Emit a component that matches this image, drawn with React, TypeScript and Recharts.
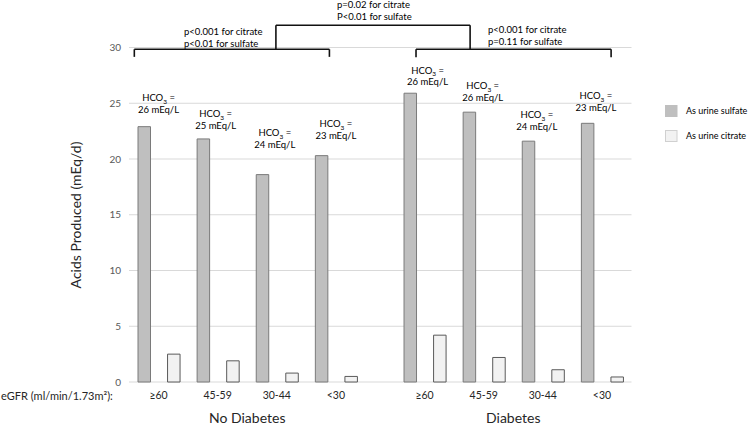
import { BarChart, Bar, XAxis, YAxis, CartesianGrid, ReferenceLine, ReferenceDot } from 'recharts'

const GROUPS = ['No Diabetes', 'Diabetes']
const EGFR = ['≥60', '45-59', '30-44', '<30']
const SULFATE_NO_DM = [22.9, 21.8, 18.6, 20.3]
const SULFATE_DM = [25.9, 24.2, 21.6, 23.2]
const CITRATE_NO_DM = [2.5, 1.9, 0.8, 0.5]
const CITRATE_DM = [4.2, 2.2, 1.1, 0.45]
const HCO3_NO_DM = [26, 25, 24, 23]
const HCO3_DM = [26, 26, 24, 23]
const Y_TICKS = [0, 5, 10, 15, 20, 25, 30]

// where each HCO3 note sits: height of its 2nd line in mEq/d, plus a small px nudge
const NOTE_Y = [[24.4, 23.0, 21.3, 22.1], [26.9, 25.5, 22.9, 24.6]]
const NOTE_DX = [[0, -2, -2, 0], [3, -1, -6, -6]]

// brackets in slot units (x) and mEq/d (y)
const BRACKETS = [
  { x1: 0.18, x2: 6.78, y: 29.84, foot: 29.16 },
  { x1: 9.71, x2: 16.31, y: 29.84, foot: 29.12 },
  { x1: 4.97, x2: 11.54, y: 32.0, foot: 29.84 },
]

const SULFATE_FILL = '#bfbfbf'
const CITRATE_FILL = '#f2f2f2'
const TEXT = '#262626'
const FONT = 'Lato, sans-serif'

const sulfate = [SULFATE_NO_DM, SULFATE_DM]
const citrate = [CITRATE_NO_DM, CITRATE_DM]
const hco3 = [HCO3_NO_DM, HCO3_DM]

// every bar gets its own slot; one empty slot between the two groups
const SLOTS_PER_GROUP = EGFR.length * 2
const rows: { slot: string; pos: number; sulfate: number | null; citrate: number | null }[] = []
GROUPS.forEach((g, gi) => {
  if (gi > 0) rows.push({ slot: `gap${gi}`, pos: 0, sulfate: null, citrate: null })
  EGFR.forEach((e, i) => {
    rows.push({ slot: `${g} ${e} s`, pos: 0, sulfate: sulfate[gi][i], citrate: null })
    rows.push({ slot: `${g} ${e} c`, pos: 0, sulfate: null, citrate: citrate[gi][i] })
  })
})
rows.forEach((r, k) => { r.pos = k + 0.5 })
const SLOT_COUNT = rows.length

const catCenter = (gi: number, i: number) => gi * (SLOTS_PER_GROUP + 1) + 2 * i + 1
const groupCenter = (gi: number) => gi * (SLOTS_PER_GROUP + 1) + SLOTS_PER_GROUP / 2
const xTicks = GROUPS.flatMap((_, gi) => EGFR.map((_, i) => catCenter(gi, i)))
const tickText: Record<number, string> = {}
GROUPS.forEach((_, gi) => EGFR.forEach((e, i) => { tickText[catCenter(gi, i)] = e }))

function Note({ cx, cy, value, dx }: any) {
  const x = cx + dx
  return (
    <g fontSize={9.5} fill="#000" textAnchor="middle">
      <text x={x} y={cy - 11.8} dy="0.35em">
        HCO<tspan fontSize={6.5} dy={2.5}>3</tspan><tspan dy={-2.5}> =</tspan>
      </text>
      <text x={x} y={cy} dy="0.35em">{value} mEq/L</text>
    </g>
  )
}

function GroupName({ cx, cy, name }: any) {
  return (
    <text x={cx} y={cy + 36} dy="0.35em" textAnchor="middle" fontSize={14} fill={TEXT}>{name}</text>
  )
}

export default function App() {
  return (
    <div style={{ position: 'absolute', left: 0, top: 0, width: 750, height: 426, fontFamily: FONT, background: '#fff' }}>
      <BarChart width={750} height={426} data={rows} margin={{ top: 47.5, right: 118.5, left: 89, bottom: 24 }}>
        <CartesianGrid xAxisId="num" vertical={false} stroke="#d9d9d9" />
        <XAxis xAxisId="slot" dataKey="slot" hide />
        <XAxis
          xAxisId="num"
          dataKey="pos"
          type="number"
          domain={[0, SLOT_COUNT]}
          allowDataOverflow
          ticks={xTicks}
          interval={0}
          height={20}
          axisLine={false}
          tickLine={false}
          tickMargin={4}
          tickFormatter={v => tickText[v] ?? ''}
          tick={{ fontSize: 10.5, fill: TEXT }}
        />
        <YAxis
          width={40}
          domain={[0, 30]}
          ticks={Y_TICKS}
          axisLine={false}
          tickLine={false}
          tick={{ fontSize: 10, fill: '#595959' }}
        />
        <Bar xAxisId="slot" dataKey="sulfate" stackId="a" barSize={12.5} fill={SULFATE_FILL} stroke="#7a7a7a" strokeWidth={1} isAnimationActive={false} />
        <Bar xAxisId="slot" dataKey="citrate" stackId="a" barSize={12.5} fill={CITRATE_FILL} stroke="#5a5a5a" strokeWidth={1} isAnimationActive={false} />
        {BRACKETS.flatMap((b, k) => [
          <ReferenceLine key={`l${k}`} xAxisId="num" ifOverflow="visible" stroke="#111" strokeWidth={1.6}
            segment={[{ x: b.x1, y: b.foot }, { x: b.x1, y: b.y }]} />,
          <ReferenceLine key={`h${k}`} xAxisId="num" ifOverflow="visible" stroke="#111" strokeWidth={1.6}
            segment={[{ x: b.x1, y: b.y }, { x: b.x2, y: b.y }]} />,
          <ReferenceLine key={`r${k}`} xAxisId="num" ifOverflow="visible" stroke="#111" strokeWidth={1.6}
            segment={[{ x: b.x2, y: b.foot }, { x: b.x2, y: b.y }]} />,
        ])}
        {GROUPS.flatMap((_, gi) => EGFR.map((_, i) => (
          <ReferenceDot key={`n${gi}${i}`} xAxisId="num" x={catCenter(gi, i)} y={NOTE_Y[gi][i]} r={0} ifOverflow="visible"
            shape={(p: any) => <Note {...p} value={hco3[gi][i]} dx={NOTE_DX[gi][i]} />} />
        )))}
        {GROUPS.map((g, gi) => (
          <ReferenceDot key={`g${gi}`} xAxisId="num" x={groupCenter(gi)} y={0} r={0} ifOverflow="visible"
            shape={(p: any) => <GroupName {...p} name={g} />} />
        ))}
      </BarChart>
      <svg width={750} height={426} style={{ position: 'absolute', left: 0, top: 0, pointerEvents: 'none' }}>
        <g fontSize={9.5} fill="#000">
          <text x={337} y={5} dy="0.35em">p=0.02 for citrate</text>
          <text x={337} y={17} dy="0.35em">P&lt;0.01 for sulfate</text>
          <text x={184} y={32} dy="0.35em">p&lt;0.001 for citrate</text>
          <text x={184} y={43.3} dy="0.35em">p&lt;0.01 for sulfate</text>
          <text x={488} y={30} dy="0.35em">p&lt;0.001 for citrate</text>
          <text x={488} y={41.7} dy="0.35em">p=0.11 for sulfate</text>
        </g>
        <text x={76} y={215} dy="0.35em" textAnchor="middle" fontSize={14} fill={TEXT} transform="rotate(-90 76 215)">
          Acids Produced (mEq/d)
        </text>
        <text x={1} y={396} dy="0.35em" fontSize={11} fill={TEXT}>eGFR (ml/min/1.73m²):</text>
        <rect x={665} y={105} width={12.5} height={12} fill={SULFATE_FILL} />
        <rect x={665.5} y={130.5} width={11.5} height={11} fill={CITRATE_FILL} stroke="#d0d0d0" />
        <g fontSize={9} fill="#000">
          <text x={686} y={111} dy="0.35em">As urine sulfate</text>
          <text x={686} y={136} dy="0.35em">As urine citrate</text>
        </g>
      </svg>
    </div>
  )
}
